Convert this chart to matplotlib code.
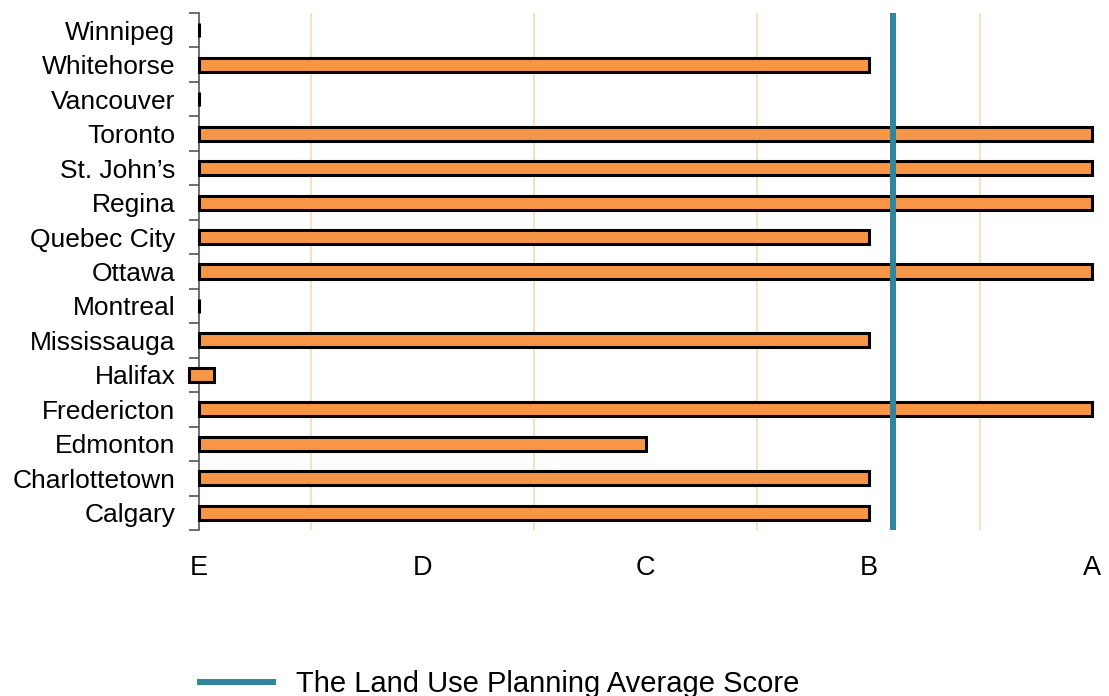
import matplotlib.pyplot as plt
from matplotlib.lines import Line2D
import numpy as np

plt.rcParams['font.family'] = ['Liberation Sans', 'DejaVu Sans']

cities = ["Calgary", "Charlottetown", "Edmonton", "Fredericton", "Halifax",
          "Mississauga", "Montreal", "Ottawa", "Quebec City", "Regina",
          "St. John\u2019s", "Toronto", "Vancouver", "Whitehorse", "Winnipeg"]
scores = [3, 3, 2, 4, 0.11, 3, 0, 4, 3, 4, 4, 4, 0, 3, 0]
starts = [0, 0, 0, 0, -0.045, 0, 0, 0, 0, 0, 0, 0, 0, 0, 0]
grades = ["E", "D", "C", "B", "A"]
average_score = 3.11

fig = plt.figure(figsize=(11.09, 6.96), dpi=100)
ax = fig.add_axes([199 / 1109, 1 - 530 / 696, (1092 - 199) / 1109, (530 - 13) / 696])

y = np.arange(len(cities))
bars = ax.barh(y, scores, left=starts, height=0.41, color="#f79646",
               edgecolor="black", linewidth=2.2, zorder=3)
for b in bars:
    b.set_clip_on(False)

ax.axvline(average_score, color="#31859c", linewidth=4.3, zorder=4)

ax.set_xlim(0, 4)
ax.set_ylim(-0.5, len(cities) - 0.5)

ax.set_xticks(range(len(grades)))
ax.set_xticklabels(grades, fontsize=19.5)
ax.set_xticks(np.arange(0, 4.01, 0.5), minor=True)
ax.tick_params(axis="x", which="both", length=0, pad=18)
ax.grid(axis="x", which="minor", color="#fcd9b0", linewidth=1.2, zorder=0)

ax.set_yticks(y)
ax.set_yticklabels(cities, fontsize=19)
ax.set_yticks(np.arange(-0.5, len(cities), 1), minor=True)
ax.tick_params(axis="y", which="major", length=0, pad=17)
ax.tick_params(axis="y", which="minor", length=7, color="#555555", width=1.2)

for s in ["top", "right", "bottom"]:
    ax.spines[s].set_visible(False)
ax.spines["left"].set_color("#555555")
ax.spines["left"].set_linewidth(1.2)

handle = Line2D([], [], color="#31859c", linewidth=4.3)
fig.legend([handle], ["The Land Use Planning Average Score"], loc="center left",
           bbox_to_anchor=(200 / 1109, 1 - 684 / 696), frameon=False,
           fontsize=21, handlelength=2.5, handletextpad=0.8,
           borderpad=0, borderaxespad=0)

fig.savefig("out.png", dpi=100)
